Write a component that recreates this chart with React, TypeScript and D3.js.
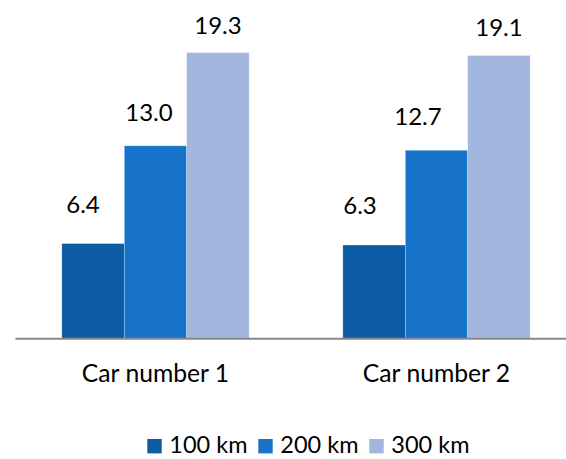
import React, { ReactElement, useEffect, useRef } from "react";
import * as d3 from "d3";

// chart values
const cars = ["Car number 1", "Car number 2"];
const series = ["100 km", "200 km", "300 km"];
const car1Values = [6.4, 13.0, 19.3];
const car2Values = [6.3, 12.7, 19.1];
const colors = ["#0e5ba5", "#1773c9", "#a3b6dd"];

// label nudges to match the hand-placed labels in the original
const labelDx = [
  [-10, -6.5, 0],
  [-14, -18.5, 0],
];
const labelGap = [31, 25, 19];

const FONT = "Lato, 'Open Sans', sans-serif";

function App(): ReactElement {
  const ref = useRef<SVGSVGElement>(null);

  useEffect(() => {
    drawChart();
  }, []);

  const drawChart = () => {
    const svg = d3.select(ref.current);
    svg.selectAll("*").remove();

    const values = [car1Values, car2Values];
    const baseline = 338.3;

    const x0 = d3
      .scaleBand()
      .domain(cars)
      .range([15, 577])
      .paddingInner(1 / 3)
      .paddingOuter(1 / 6);
    const x1 = d3.scaleBand().domain(series).range([0, x0.bandwidth()]);
    const y = d3.scaleLinear().domain([0, 19.3]).range([baseline, 52.5]);

    const groups = svg
      .selectAll(".group")
      .data(cars)
      .enter()
      .append("g")
      .attr("class", "group")
      .attr("transform", (d) => `translate(${x0(d)},0)`);

    groups
      .selectAll("rect")
      .data((d, i) => values[i].map((v, j) => ({ v, j })))
      .enter()
      .append("rect")
      .attr("x", (d) => x1(series[d.j]) || 0)
      .attr("width", x1.bandwidth())
      .attr("y", (d) => y(d.v))
      .attr("height", (d) => baseline - y(d.v))
      .attr("fill", (d) => colors[d.j])
      .attr("stroke", "rgba(255,255,255,0.5)")
      .attr("stroke-width", 0.6);

    groups
      .selectAll(".value")
      .data((d, i) => values[i].map((v, j) => ({ v, j, i })))
      .enter()
      .append("text")
      .attr("class", "value")
      .attr("x", (d) => (x1(series[d.j]) || 0) + x1.bandwidth() / 2 + labelDx[d.i][d.j])
      .attr("y", (d) => y(d.v) - labelGap[d.j])
      .attr("text-anchor", "middle")
      .attr("font-family", FONT)
      .attr("font-size", 24)
      .attr("fill", "#000")
      .text((d) => d.v.toFixed(1));

    // category axis
    const axis = svg
      .append("g")
      .attr("transform", `translate(0,${baseline})`)
      .call(d3.axisBottom(x0).tickSize(0).tickPadding(0));
    axis.select(".domain").attr("stroke", "#898989").attr("stroke-width", 2);
    axis
      .selectAll(".tick text")
      .attr("dy", 0)
      .attr("y", 43.4)
      .attr("font-family", FONT)
      .attr("font-size", 24.7)
      .attr("fill", "#000");

    // legend
    const legend = svg
      .selectAll(".legend")
      .data(series)
      .enter()
      .append("g")
      .attr("class", "legend")
      .attr("transform", (d, i) => `translate(${147.3 + i * 111},439)`);
    legend
      .append("rect")
      .attr("width", 14.4)
      .attr("height", 14.4)
      .attr("fill", (d, i) => colors[i]);
    legend
      .append("text")
      .attr("x", 22)
      .attr("y", 14.3)
      .attr("font-family", FONT)
      .attr("font-size", 23.5)
      .attr("fill", "#000")
      .text((d) => d);
  };

  return (
    <div>
      <svg
        ref={ref}
        width={566}
        height={459}
        style={{ position: "absolute", left: 0, top: 0, background: "#fff" }}
      ></svg>
    </div>
  );
}

export default App;
